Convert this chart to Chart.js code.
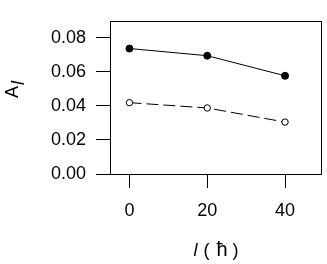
<!DOCTYPE html>
<html>
<head>
<meta charset="utf-8">
<script src="https://cdn.jsdelivr.net/npm/chart.js@4/dist/chart.umd.min.js"></script>
<style>
  html, body { margin: 0; padding: 0; background: #fff; }
  canvas { display: block; }
</style>
</head>
<body>
<canvas id="chart" width="327" height="264"></canvas>
<script>
  // data
  const spinValues = [0, 20, 40];
  const filledValues = [0.0737, 0.0695, 0.0577];
  const openValues = [0.0419, 0.0388, 0.0305];
  const xTicks = [0, 20, 40];
  const yTicks = [0, 0.02, 0.04, 0.06, 0.08];

  const font = '"Liberation Sans", Arial, Helvetica, sans-serif';

  function points(ys) {
    return spinValues.map((x, i) => ({ x: x, y: ys[i] }));
  }

  // box round the plot + axis titles
  const framePlugin = {
    id: 'frame',
    afterDraw(chart) {
      const ctx = chart.ctx;
      const a = chart.chartArea;
      ctx.save();
      ctx.strokeStyle = '#000';
      ctx.lineWidth = 1;
      ctx.strokeRect(Math.round(a.left) + 0.5, Math.round(a.top) + 0.5,
        Math.round(a.right - a.left) - 1, Math.round(a.bottom - a.top));

      ctx.fillStyle = '#000';
      ctx.textBaseline = 'alphabetic';

      // y title: A with italic l subscript, rotated
      ctx.save();
      ctx.translate(18, 91);
      ctx.rotate(-Math.PI / 2);
      ctx.font = '18px ' + font;
      ctx.textAlign = 'left';
      const wA = ctx.measureText('A').width;
      ctx.fillText('A', -wA / 2 - 1, 0);
      ctx.font = 'italic 18px ' + font;
      ctx.fillText('l', wA / 2, 6);
      ctx.restore();

      // x title: l ( ħ ), drawn piece by piece
      const parts = [
        { t: 'l', f: 'italic 18px ' + font, gap: 6 },
        { t: '(', f: '18px ' + font, gap: 7 },
        { t: 'ħ', f: '20px ' + font, gap: 5 },
        { t: ')', f: '18px ' + font, gap: 0 }
      ];
      ctx.textAlign = 'left';
      let total = 0;
      parts.forEach(p => { ctx.font = p.f; p.w = ctx.measureText(p.t).width; total += p.w + p.gap; });
      let x = (a.left + a.right) / 2 - total / 2;
      parts.forEach(p => {
        ctx.font = p.f;
        ctx.fillText(p.t, x, 256);
        x += p.w + p.gap;
      });
      ctx.restore();
    }
  };

  new Chart(document.getElementById('chart'), {
    type: 'scatter',
    data: {
      datasets: [
        {
          data: points(filledValues),
          showLine: true,
          borderColor: '#000',
          borderWidth: 1,
          backgroundColor: '#000',
          pointRadius: 3.5,
          pointBorderWidth: 1,
          pointBorderColor: '#000',
          pointBackgroundColor: '#000'
        },
        {
          data: points(openValues),
          showLine: true,
          borderColor: '#000',
          borderWidth: 1,
          borderDash: [12, 5],
          backgroundColor: '#fff',
          pointRadius: 3.2,
          pointBorderWidth: 1,
          pointBorderColor: '#000',
          pointBackgroundColor: '#fff'
        }
      ]
    },
    options: {
      responsive: false,
      animation: false,
      devicePixelRatio: 1,
      layout: { padding: { left: 0, right: 5, top: 3, bottom: 0 } },
      plugins: {
        legend: { display: false },
        tooltip: { enabled: false }
      },
      scales: {
        x: {
          type: 'linear',
          min: -5,
          max: 49.5,
          afterBuildTicks: (s) => { s.ticks = xTicks.map(v => ({ value: v })); },
          afterFit: (s) => { s.height = 90; },
          grid: { drawOnChartArea: false, drawTicks: true, tickLength: 14, color: '#000', lineWidth: 1 },
          border: { display: false },
          ticks: {
            color: '#000',
            padding: 12,
            maxRotation: 0,
            font: { family: font, size: 18 },
            callback: (v) => String(v)
          }
        },
        y: {
          min: 0,
          max: 0.09,
          afterBuildTicks: (s) => { s.ticks = yTicks.map(v => ({ value: v })); },
          afterFit: (s) => { s.width = 110; },
          grid: { drawOnChartArea: false, drawTicks: true, tickLength: 14, color: '#000', lineWidth: 1 },
          border: { display: false },
          ticks: {
            color: '#000',
            padding: 10,
            font: { family: font, size: 18 },
            callback: (v) => v.toFixed(2)
          }
        }
      }
    },
    plugins: [framePlugin]
  });
</script>
</body>
</html>
